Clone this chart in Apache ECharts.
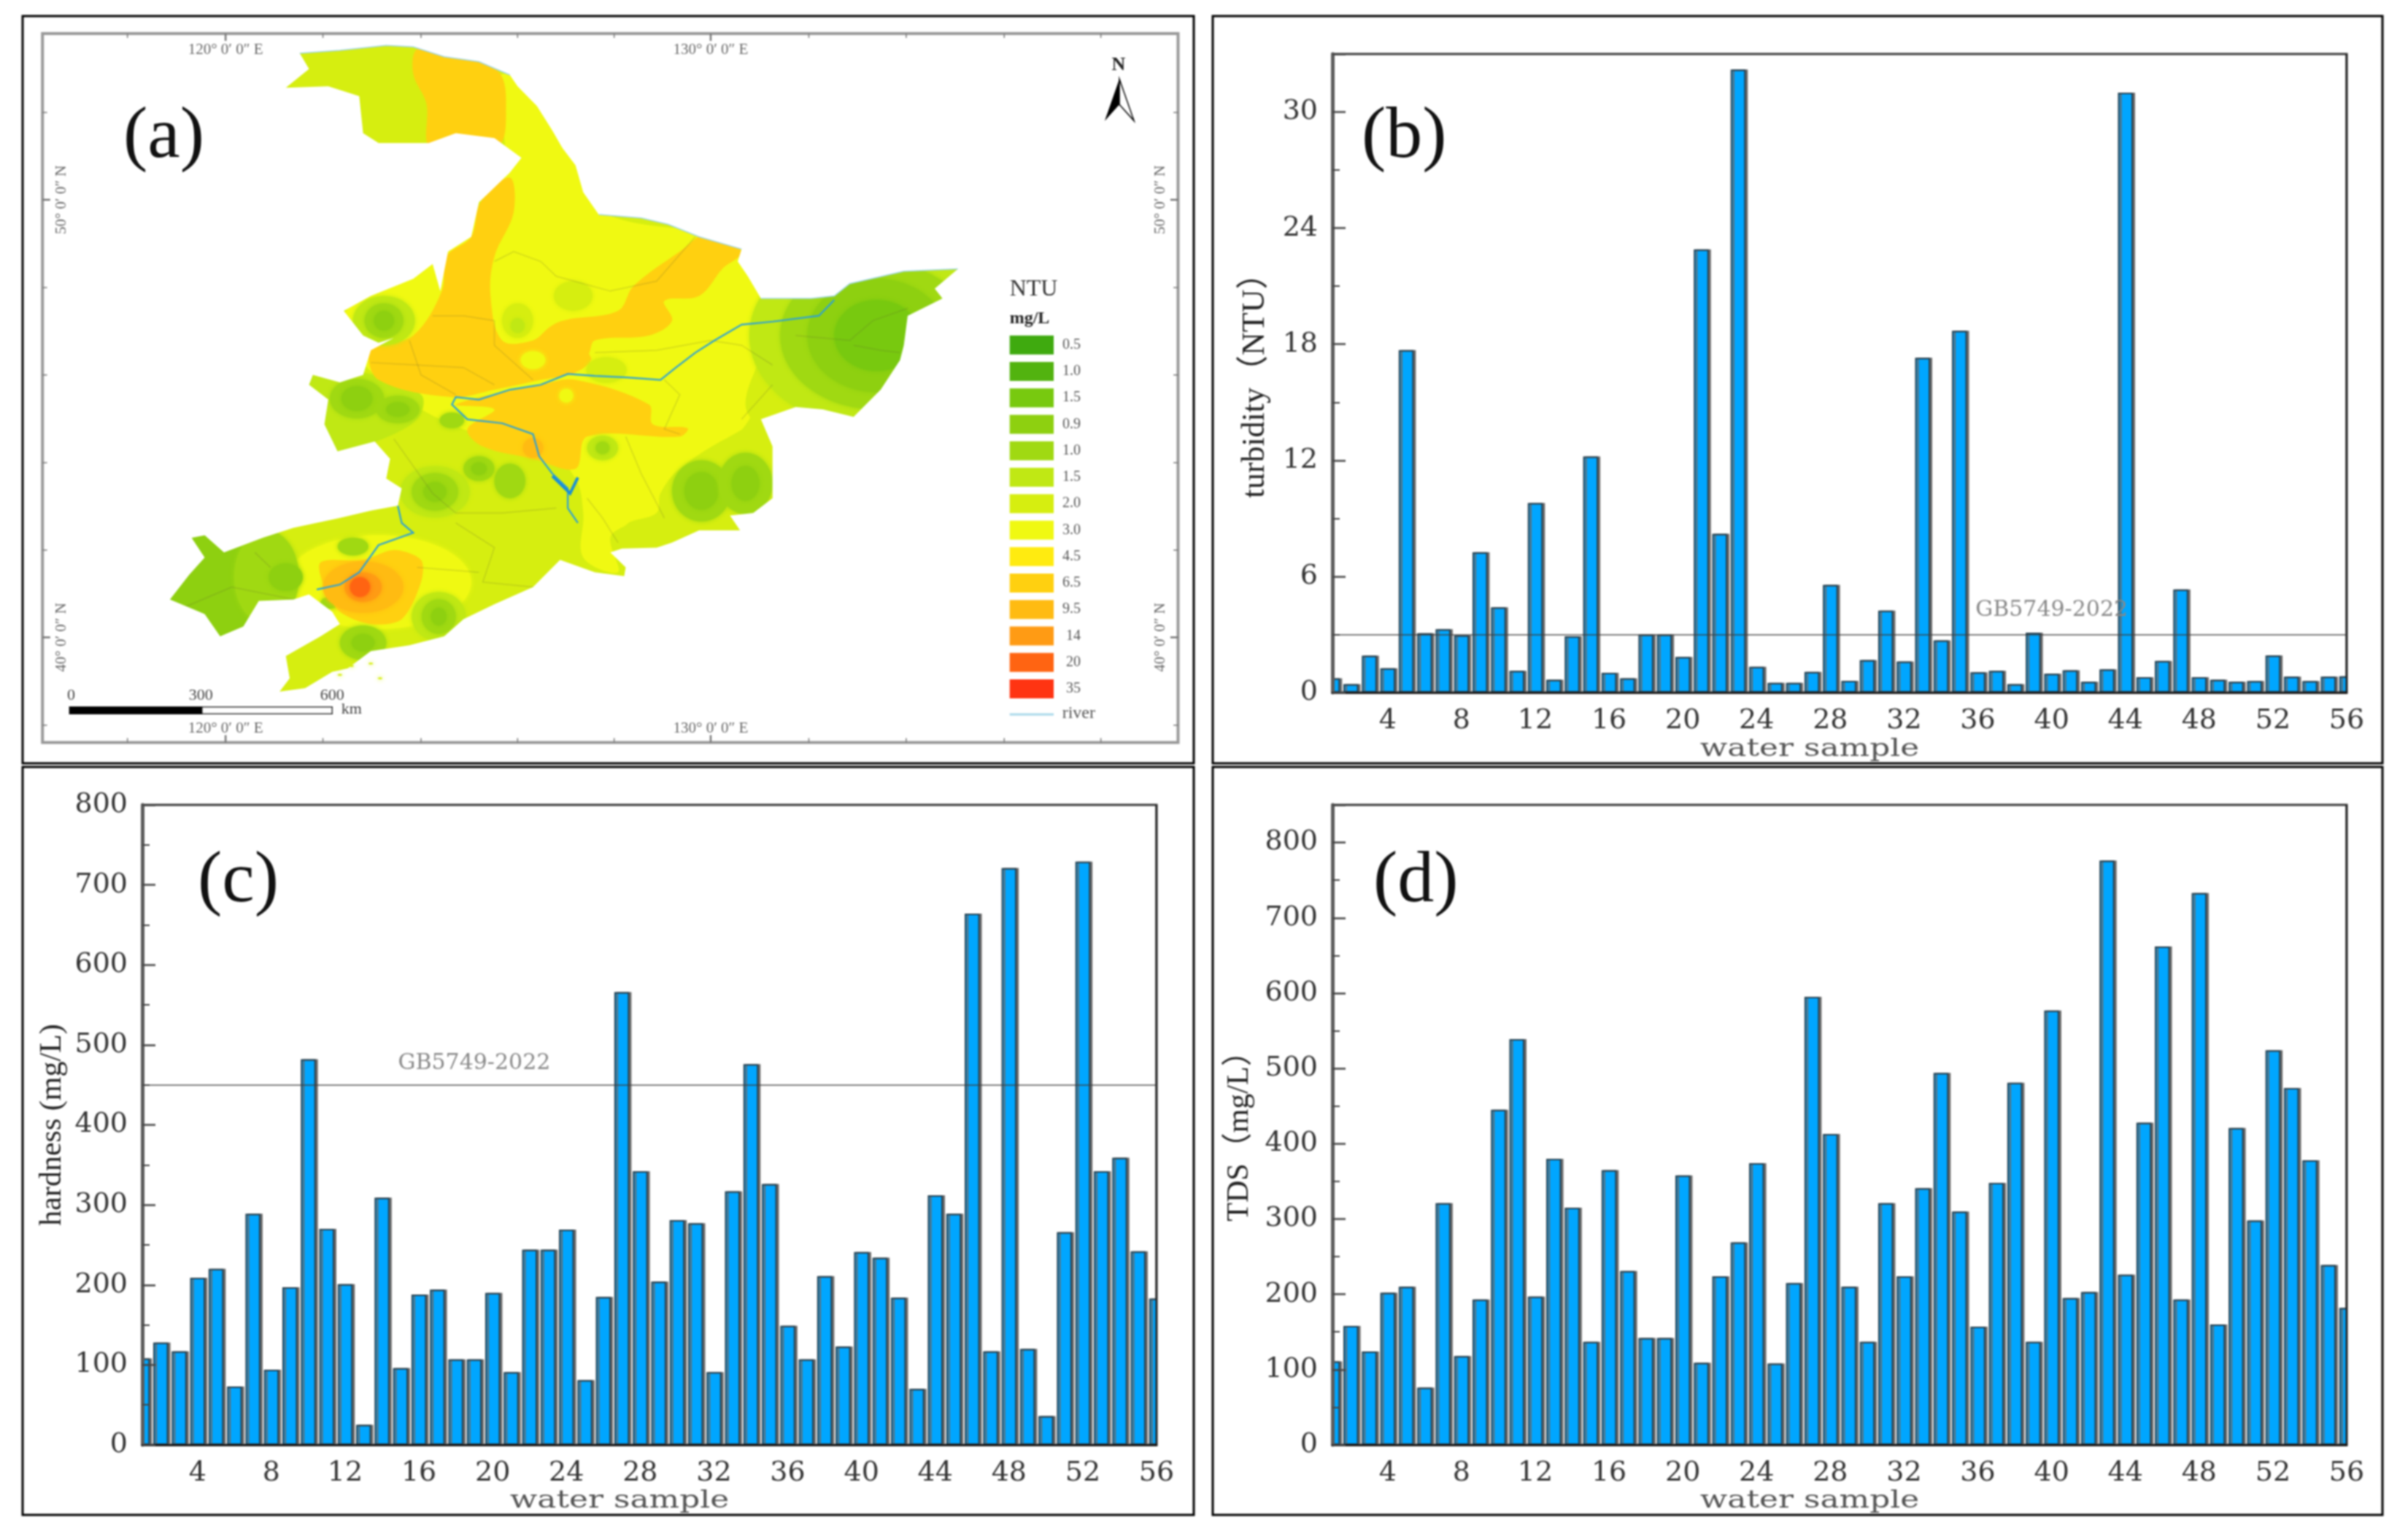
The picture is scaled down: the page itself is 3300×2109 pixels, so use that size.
<!DOCTYPE html>
<html><head><meta charset="utf-8">
<style>html,body{margin:0;padding:0;background:#fff}#c{width:3300px;height:2109px}canvas{filter:blur(0.8px)}</style>
<script src="https://cdn.jsdelivr.net/npm/echarts@6/dist/echarts.min.js"></script>
</head><body><div id="c"></div>
<script>
const samples = [1,2,3,4,5,6,7,8,9,10,11,12,13,14,15,16,17,18,19,20,21,22,23,24,25,26,27,28,29,30,31,32,33,34,35,36,37,38,39,40,41,42,43,44,45,46,47,48,49,50,51,52,53,54,55,56];
const turbidity = [0.74,0.43,1.9,1.25,17.7,3.06,3.27,2.96,7.25,4.4,1.12,9.8,0.66,2.9,12.2,1.02,0.74,3.0,3.0,1.84,22.9,8.2,32.2,1.33,0.5,0.5,1.07,5.56,0.6,1.68,4.23,1.6,17.3,2.7,18.7,1.05,1.12,0.43,3.09,0.97,1.15,0.56,1.2,31.0,0.79,1.63,5.33,0.79,0.66,0.56,0.59,1.91,0.82,0.59,0.82,0.84];
const hardness = [108,128,117,209,220,73,289,94,197,482,270,201,25,309,96,188,194,107,107,190,91,244,244,269,81,185,566,342,204,281,277,91,317,476,326,149,107,211,123,241,234,184,70,312,289,664,117,721,120,36,266,729,342,359,242,183];
const tds = [111,158,124,202,210,76,321,118,193,445,539,197,380,315,137,365,231,142,142,358,109,224,269,374,108,215,595,413,210,137,321,224,341,494,310,157,348,481,137,577,195,203,776,226,428,662,193,733,160,421,298,524,474,378,239,182];
const turbidityLimit = 3, hardnessLimit = 450;

const legendLabels = ['0.5','1.0','1.5','0.9','1.0','1.5','2.0','3.0','4.5','6.5','9.5','14','20','35'];
const legendColors = ['#3FAA0F','#52B30F','#78C90F','#8ED010','#A0D912','#C0E814','#D6EE10','#F0F912','#FFEB10','#FFD010','#FFBB12','#FF9B14','#FF6412','#FF3412'];

// Map geometry, traced in a 1568 x 1568 drawing plane
const mapOutline = [[388,108],[440,102],[500,92],[535,95],[575,115],[620,125],[660,152],[670,175],[695,215],[715,265],[728,300],[745,335],[755,390],[775,435],[830,442],[865,455],[905,480],[960,505],[955,530],[968,560],[985,605],[1050,605],[1080,600],[1100,575],[1170,550],[1240,545],[1210,585],[1220,605],[1175,640],[1170,700],[1165,730],[1140,790],[1105,845],[1065,830],[1030,825],[985,850],[1000,905],[1000,1010],[975,1040],[945,1045],[958,1075],[905,1075],[870,1100],[850,1110],[805,1112],[790,1120],[810,1150],[808,1168],[770,1160],[725,1135],[690,1190],[640,1225],[600,1255],[575,1290],[530,1308],[480,1320],[450,1355],[430,1362],[395,1395],[362,1402],[375,1375],[370,1330],[415,1290],[440,1265],[430,1240],[400,1205],[380,1215],[335,1218],[315,1270],[285,1290],[265,1245],[220,1215],[245,1165],[265,1130],[248,1090],[265,1085],[290,1120],[340,1090],[380,1070],[440,1050],[480,1035],[515,1025],[520,990],[500,970],[505,930],[485,895],[437,915],[420,860],[425,810],[400,780],[405,760],[440,775],[470,760],[480,710],[510,685],[490,695],[470,680],[445,630],[480,600],[535,565],[560,535],[570,590],[580,510],[610,480],[620,410],[660,350],[675,320],[640,280],[590,270],[555,290],[490,290],[470,270],[465,195],[425,175],[370,178],[400,140]];
const zoneYellow = [[650,150],[760,300],[780,430],[1000,495],[990,600],[1075,600],[1000,650],[990,700],[985,780],[970,850],[940,900],[880,950],[855,1000],[850,1040],[810,1065],[790,1090],[800,1160],[755,1130],[755,1040],[745,970],[700,900],[600,870],[500,780],[440,650],[560,520],[650,350]];
const zoneOrangeNorth = [[540,100],[580,110],[645,145],[655,230],[645,295],[590,275],[555,295],[552,210],[535,150]];
const zoneOrangeWest = [[660,360],[622,410],[610,480],[578,520],[572,590],[535,680],[480,710],[490,770],[585,805],[640,790],[700,770],[745,755],[765,725],[720,660],[690,690],[650,690],[635,600],[640,520],[665,430]];
const zoneOrangeDiagonal = [[690,710],[720,655],[800,630],[820,580],[880,510],[920,470],[960,510],[935,545],[905,600],[860,610],[870,650],[840,680],[770,690],[760,720],[720,725]];
const zoneOrangeCentre = [[590,820],[700,780],[745,770],[840,820],[845,860],[890,868],[880,885],[760,885],[745,950],[690,930],[625,905],[605,870],[640,830]];
const zoneLimeEast = [[1000,650],[1060,610],[1240,540],[1230,860],[985,860],[965,820],[985,720]];
const zoneLimeSouthEast = [[860,1000],[880,950],[950,880],[985,860],[1010,900],[1010,1020],[950,1050],[905,1085],[850,1115],[810,1115],[810,1065],[850,1040]];
const zoneLimeWest = [[395,755],[470,755],[545,800],[540,850],[480,900],[430,925],[410,850]];
const zoneSouthWestGreen = [[240,1080],[270,1080],[290,1115],[340,1085],[345,1300],[280,1300],[210,1220]];
const zoneHot = [[415,1140],[470,1135],[510,1115],[545,1135],[545,1180],[520,1255],[480,1265],[440,1240],[420,1190]];
const mapZones = [[zoneYellow,7],[zoneLimeEast,6],[zoneLimeSouthEast,6],[zoneLimeWest,5],[zoneSouthWestGreen,3],[zoneOrangeNorth,9],[zoneOrangeWest,9],[zoneOrangeDiagonal,9],[zoneOrangeCentre,9]];
// Spots: centre x, centre y, radius x, radius y, legend colour index
const mapHalo = [[490,1180,120,95,7]];
const mapSpots = [[1135,680,165,190,5],[1135,680,125,150,4],[1135,680,90,115,3],[1135,680,55,72,2],[345,1170,42,95,4],[742,600,25,30,6],[670,650,20,35,6],[670,660,9,15,5],[785,750,26,26,6],[780,908,20,25,5],[780,908,9,13,4],[690,730,16,18,7],[733,802,9,14,7],[690,908,13,20,10],
[497,650,40,50,5],[497,650,25,35,4],[497,650,13,20,3],[462,808,35,40,4],[462,808,20,25,3],[515,830,28,28,4],[515,830,15,15,3],[585,852,16,16,4],
[563,997,45,52,5],[563,997,30,38,4],[563,997,15,20,3],[620,950,20,25,4],[620,950,10,13,3],[660,975,20,35,4],
[908,995,38,62,4],[908,995,22,38,3],[965,980,35,62,4],[965,980,18,35,3],
[370,1170,22,28,3],[568,1250,35,50,5],[568,1250,22,35,4],[568,1250,10,18,3],[470,1303,30,35,4],[470,1303,15,18,3],[427,1222,12,12,4],[457,1108,20,18,4]];
const mapHotSpots = [[470,1190,52,52,10],[470,1190,24,30,11],[466,1190,13,20,12]];
const riverMain = [[1080,608],[1060,640],[1000,652],[960,658],[925,690],[900,715],[875,745],[855,770],[810,765],[770,762],[735,758],[700,780],[660,790],[620,810],[590,805],[585,820],[605,850],[650,858],[690,880],[698,925],[715,960],[735,990],[735,1030],[748,1060]];
const riverBranch = [[748,968],[738,1000],[715,965]];
const riverLiao = [[515,1025],[520,1060],[535,1080],[490,1105],[465,1160],[440,1185],[410,1195]];
const borderRivers = [[[388,108],[440,102],[500,92],[535,95],[575,115],[620,125],[660,152]],[[775,435],[830,442],[865,455],[905,480],[960,505]],[[985,605],[1050,605],[1080,600],[1100,575],[1170,550],[1240,545]]];
const countyLines = [[[640,530],[665,510],[700,530],[720,560],[790,590],[850,570],[900,480]],[[560,640],[600,640],[640,650],[640,700],[690,770]],[[530,690],[545,760],[590,800]],[[480,735],[540,740],[600,745],[640,780]],[[770,715],[850,710],[920,690],[960,700],[1000,740]],[[860,770],[880,800],[860,870],[880,880]],[[1030,680],[1100,690],[1130,650],[1175,625]],[[1105,700],[1140,710],[1165,715]],[[960,850],[1000,780]],[[810,885],[830,960],[860,1050]],[[760,1010],[780,1050],[800,1100]],[[510,890],[560,1000],[590,1040],[650,1040],[720,1030]],[[590,1060],[640,1110],[625,1180],[690,1190]],[[240,1230],[300,1190],[380,1215]],[[330,1120],[350,1150]],[[540,1150],[620,1160]]];
const islands = [[455,1350],[480,1345],[492,1375],[440,1368]];
const lonTicks = [165,292,418,545,670,795,920,1047,1173,1300,1425];
const latTicks = [228,405,583,760,938,1115,1292,1470];
const lonLabels = [[292,'120° 0′ 0″ E'],[920,'130° 0′ 0″ E']];
const latLabels = [[405,'50° 0′ 0″ N'],[1292,'40° 0′ 0″ N']];

const SERIF = '"Liberation Serif","Noto Sans CJK SC",serif';

function renderMap(params, api){
  const P = p => api.coord(p);
  const pts = a => a.map(P);
  const kids = [];
  const sx = P([1,0])[0]-P([0,0])[0], sy = P([0,1])[1]-P([0,0])[1];
  const poly = (a,c,sm) => kids.push({type:'polygon',shape:{points:pts(a),smooth:sm||0},style:{fill:c}});
  const line = (a,c,w) => kids.push({type:'polyline',shape:{points:pts(a)},style:{stroke:c,lineWidth:w,fill:null}});
  const ell = s => { const c=P([s[0],s[1]]); const col=legendColors[s[4]]; kids.push({type:'ellipse',shape:{cx:c[0],cy:c[1],rx:s[2]*sx,ry:s[3]*sy},style:{fill:col,shadowColor:col,shadowBlur:6}}); };
  const txt = (x,y,t,font,fill,align,rot) => { const c=P([x,y]); kids.push({type:'text',x:c[0],y:c[1],rotation:rot||0,style:{text:t,font:font,fill:fill,textAlign:align||'center',textVerticalAlign:'middle'}}); };

  const a0=P([55,68]), a1=P([1525,1505]);
  kids.push({type:'rect',shape:{x:a0[0],y:a0[1],width:a1[0]-a0[0],height:a1[1]-a0[1]},style:{fill:legendColors[6]}});
  mapHalo.forEach(ell);
  mapZones.forEach(z => poly(z[0],legendColors[z[1]],0.35));
  mapSpots.forEach(ell);
  poly(zoneHot,legendColors[9],0.3);
  mapHotSpots.forEach(ell);
  countyLines.forEach(l => line(l,'rgba(90,90,50,0.2)',1.5));
  // white mask: everything outside the outline
  const L=a0[0],T=a0[1],R=a1[0],B=a1[1];
  let d=`M${L} ${T} L${L} ${B} L${R} ${B} L${R} ${T} Z M`;
  d+=pts(mapOutline).map(p=>p[0].toFixed(1)+' '+p[1].toFixed(1)).join(' L')+' Z';
  kids.push({type:'path',shape:{pathData:d,x:L,y:T,width:R-L,height:B-T,layout:'cover'},style:{fill:'#fff'}});
  borderRivers.forEach(l => line(l,'#9fd6e6',1.5));
  line(riverMain,'#2aa0d8',2.2); line(riverLiao,'#2aa0d8',2.2); line(riverBranch,'#1a8fd6',4);
  islands.forEach(s=>ell([s[0],s[1],3,2,6]));
  // map frame
  kids.push({type:'rect',shape:{x:L,y:T,width:R-L,height:B-T},style:{fill:null,stroke:'#999',lineWidth:4}});
  lonTicks.forEach(x => { const big=lonLabels.some(l=>l[0]===x), h=big?10:6;
    line([[x,68],[x,68+h*1.48]],'#777',big?2.5:1.5); line([[x,1505],[x,1505-h*1.48]],'#777',big?2.5:1.5); });
  latTicks.forEach(y => { const big=latLabels.some(l=>l[0]===y), w=big?10:6;
    line([[55,y],[55+w,y]],'#777',big?2.5:1.5); line([[1525,y],[1525-w,y]],'#777',big?2.5:1.5); });
  const tf='21px "Liberation Serif",serif';
  lonLabels.forEach(l => { txt(l[0],102,l[1],tf,'#666'); txt(l[0],1477,l[1],tf,'#666'); });
  latLabels.forEach(l => { txt(80,l[0],l[1],tf,'#666','center',Math.PI/2); txt(1502,l[0],l[1],tf,'#666','center',Math.PI/2); });
  // north arrow
  txt(1448,132,'N','bold 26px "Liberation Serif",serif','#222');
  poly([[1449,160],[1430,245],[1449,212]],'#000');
  kids.push({type:'polygon',shape:{points:pts([[1449,160],[1468,245],[1449,212]])},style:{fill:'#fff',stroke:'#000',lineWidth:1.5}});
  // scale bar
  const s0=P([90,1433]), s1=P([262,1447]), s2=P([430,1447]);
  kids.push({type:'rect',shape:{x:s0[0],y:s0[1],width:s2[0]-s0[0],height:s2[1]-s0[1]},style:{fill:'#fff',stroke:'#333',lineWidth:1.5}});
  kids.push({type:'rect',shape:{x:s0[0],y:s0[1],width:s1[0]-s0[0],height:s1[1]-s0[1]},style:{fill:'#000'}});
  const sf='22px "Liberation Serif",serif';
  txt(92,1410,'0',sf,'#444'); txt(260,1410,'300',sf,'#444'); txt(430,1410,'600',sf,'#444'); txt(455,1438,'km',sf,'#444');
  // legend
  txt(1307,587,'NTU','32px "Liberation Serif",serif','#333','left');
  txt(1307,646,'mg/L','bold 24px "Liberation Serif",serif','#222','left');
  legendLabels.forEach((t,i)=>{
    const y0=P([0,680])[1]+i*36.25, x0=P([1307,0])[0], x1=P([1364,0])[0];
    kids.push({type:'rect',shape:{x:x0,y:y0,width:x1-x0,height:26},style:{fill:legendColors[i]}});
    const c=P([1399,0]);
    kids.push({type:'text',x:c[0],y:y0+13,style:{text:t,font:'20px "Liberation Serif",serif',fill:'#555',textAlign:'right',textVerticalAlign:'middle'}});
  });
  line([[1307,1448],[1364,1448]],'#a8d8ea',3);
  txt(1375,1446,'river','24px "Liberation Serif",serif','#555','left');
  return {type:'group',children:kids};
}

const barGrids = [
  {left:1826,top:74,width:1390,height:875},
  {left:195,top:1103,width:1390,height:877},
  {left:1826,top:1103,width:1390,height:877}
];
const gridCfg = g => Object.assign({show:true,borderColor:'#3c3c3c',borderWidth:3,backgroundColor:'#fff'},g);
const xCfg = i => ({type:'category',gridIndex:i,data:samples,boundaryGap:false,z:6,
  axisLine:{lineStyle:{color:'#1c1c1c',width:3}},axisTick:{show:false},
  axisLabel:{margin:20,interval:(idx,v)=>(+v)%4===0,fontFamily:'DejaVu Serif',fontSize:38,color:'#333'},splitLine:{show:false}});
const yCfg = (i,max,step,name,gap,fs,pad) => ({type:'value',gridIndex:i,min:0,max:max,interval:step,z:6,
  name:name,nameLocation:'middle',nameGap:gap,
  nameTextStyle:{fontFamily:SERIF,fontSize:fs,color:'#222',padding:pad},
  axisLine:{show:true,lineStyle:{color:'#5c5c5c',width:5}},
  axisTick:{show:true,inside:true,length:18,lineStyle:{color:'#444',width:2.5}},
  minorTick:{show:true,splitNumber:2,length:10,lineStyle:{color:'#444',width:2}},
  axisLabel:{margin:20,showMaxLabel:max%step===0,fontFamily:'DejaVu Serif',fontSize:38,color:'#333'},
  splitLine:{show:false},minorSplitLine:{show:false}});
const barSeries = (i,vals,limit,labelSample,labelDy) => {
  const s = {type:'bar',xAxisIndex:i,yAxisIndex:i,data:vals,barWidth:20.5,animation:false,silent:true,z:3,
    itemStyle:{color:'#00A6FF',borderColor:'#27404f',borderWidth:2,shadowColor:'#6a6a6a',shadowOffsetX:3,shadowBlur:0}};
  if(limit!=null){
    s.markLine={silent:true,animation:false,symbol:'none',label:{show:false},lineStyle:{color:'rgba(60,60,60,0.65)',width:2,type:'solid'},data:[{yAxis:limit}]};
    s.markPoint={silent:true,animation:false,symbol:'circle',symbolSize:0,
      label:{show:true,position:'inside',offset:[0,labelDy],formatter:'GB5749-2022',fontFamily:'DejaVu Serif',fontSize:30,color:'#888'},
      data:[{coord:[String(labelSample),limit]}]};
  }
  return s;
};

const panelFrames = [[31,22,1605,1024],[1662,22,1603,1024],[31,1051,1605,1025],[1662,1051,1603,1025]];
const panelTags = [['(a)',169,189],['(b)',1866,189],['(c)',271,1209],['(d)',1882,1209]];
const xNames = [[2480,1027],[849,2057],[2480,2057]];

// the first and last bars stand half outside the plot: white strips trim them at the frame
const trimStrips = barGrids.flatMap(g=>[
  {type:'rect',z:4,silent:true,shape:{x:g.left-18,y:g.top,width:17,height:g.height+1},style:{fill:'#fff'}},
  {type:'rect',z:4,silent:true,shape:{x:g.left+g.width+1,y:g.top,width:18,height:g.height+1},style:{fill:'#fff'}},
  {type:'line',z:5,silent:true,shape:{x1:g.left+g.width,y1:g.top,x2:g.left+g.width,y2:g.top+g.height},style:{stroke:'#222',lineWidth:3}}
]);

const chart = echarts.init(document.getElementById('c'),null,{renderer:'canvas',width:3300,height:2109});
chart.setOption({
  backgroundColor:'#fff',animation:false,
  grid:[{left:0,top:0,width:1660,height:1060,show:false}].concat(barGrids.map(gridCfg)),
  xAxis:[{type:'value',gridIndex:0,min:0,max:1568,show:false},xCfg(1),xCfg(2),xCfg(3)],
  yAxis:[{type:'value',gridIndex:0,min:0,max:1568,inverse:true,show:false},
    yCfg(1,33,6,'turbidity（NTU）',84,44,[0,12,0,0]),
    yCfg(2,800,100,'hardness (mg/L)',102,42,[0,0,0,0]),
    yCfg(3,850,100,'TDS（mg/L）',106,42,[0,10,0,0])],
  series:[
    {type:'custom',xAxisIndex:0,yAxisIndex:0,data:[[0,0]],clip:false,silent:true,renderItem:renderMap,z:2},
    barSeries(1,turbidity,turbidityLimit,40,-33),
    barSeries(2,hardness,hardnessLimit,19,-29),
    barSeries(3,tds,null)
  ],
  graphic:[].concat(
    trimStrips,
    panelFrames.map(f=>({type:'rect',z:20,silent:true,shape:{x:f[0],y:f[1],width:f[2],height:f[3]},style:{fill:null,stroke:'#000',lineWidth:3}})),
    panelTags.map(t=>({type:'text',z:21,silent:true,x:t[1],y:t[2],style:{text:t[0],font:'100px "Liberation Serif",serif',fill:'#111',textAlign:'left',textVerticalAlign:'middle'}})),
    xNames.map(n=>({type:'text',z:21,silent:true,x:n[0],y:n[1],scaleX:1.33,style:{text:'water sample',font:'33px "DejaVu Serif",serif',fill:'#555',textAlign:'center',textVerticalAlign:'middle'}}))
  )
});
</script></body></html>
